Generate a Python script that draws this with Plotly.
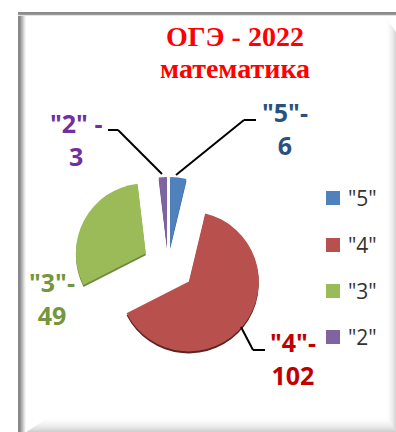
import plotly.graph_objects as go

W, H = 396, 432
categories = ['"5"', '"4"', '"3"', '"2"']
values = [6, 102, 49, 3]
colors = ["#4F81BD", "#B8504E", "#9BBB59", "#8064A2"]
rim_colors = ["#3A6090", "#5A2422", "#6F8A3E", "#5C4878"]
label_colors = ["#2A5082", "#C00000", "#76953C", "#7030A0"]
pull = [0.26, 0.38, 0.36, 0.26]
data_labels = ['"5"-<br>6', '"4"-<br>102', '"3"-<br>49', '"2" -<br>3']
label_pos = [(285, 128), (293, 358), (52, 298), (76, 139)]
leaders = [
    [(176, 175), (244, 120), (256, 120)],
    [(241, 327), (253, 350), (265, 350)],
    [(162, 174), (118, 130), (108, 130)],
]
legend_y = [198, 245, 291, 337]


def xf(x):
    return x / W


def yf(y):
    return 1 - y / H


def domain(cx, cy, size):
    return dict(x=[xf(cx - size / 2), xf(cx + size / 2)], y=[yf(cy + size / 2), yf(cy - size / 2)])


CX, CY, SIZE = 168, 265, 193
base = dict(labels=categories, values=values, sort=False, direction="clockwise", rotation=0,
            pull=pull, textinfo="none", hoverinfo="label+value", showlegend=False)
fig = go.Figure()
fig.add_trace(go.Pie(domain=domain(CX, CY + 2, SIZE), marker=dict(colors=rim_colors, line=dict(width=0)), **base))
fig.add_trace(go.Pie(domain=domain(CX, CY, SIZE), marker=dict(colors=colors, line=dict(width=0)), **base))

shapes = []


def rect(x0, y0, x1, y1, color):
    shapes.append(dict(type="rect", xref="paper", yref="paper", x0=xf(x0), x1=xf(x1), y0=yf(y1), y1=yf(y0),
                       fillcolor=color, line=dict(width=0), layer="below"))


def grey(v):
    return f"rgb({v},{v},{v})"


# beveled frame
rect(18, 12, 396, 432, "#FFFFFF")
# right bevel, mitred at its ends
for i, v in enumerate([214, 222, 229, 235, 240, 244, 248, 251, 253, 254]):
    rect(395 - i, 18 + 1.5 * (9 - i), 396 - i, 432 - i, grey(v))
# bottom bevel, mitred at its left end
for i, v in enumerate([208, 214, 220, 225, 230, 234, 238, 241, 244, 247, 249, 251, 253, 254]):
    rect(27 + 1.5 * i, 431 - i, 396 - i * 0.7, 432 - i, grey(v))
# left bevel
for i, v in enumerate([136, 136, 150, 170, 190, 210, 230, 245]):
    rect(18 + i, 12, 19 + i, 432, grey(v))
# top line
for i, v in enumerate([140, 140, 155, 225]):
    rect(18, 12 + i, 396, 13 + i, grey(v))

# leader lines
for pts in leaders:
    for (x0, y0), (x1, y1) in zip(pts, pts[1:]):
        shapes.append(dict(type="line", xref="paper", yref="paper", x0=xf(x0), x1=xf(x1), y0=yf(y0), y1=yf(y1),
                           line=dict(color="#000000", width=2)))

# legend swatches
for y, c in zip(legend_y, colors):
    shapes.append(dict(type="rect", xref="paper", yref="paper", x0=xf(326), x1=xf(340), y0=yf(y + 7), y1=yf(y - 7),
                       fillcolor=c, line=dict(width=0)))

ann = [
    dict(text="<b>ОГЭ - 2022</b>", x=xf(235), y=yf(36), font=dict(family="Liberation Serif", size=28, color="#FF0000")),
    dict(text="<b>математика</b>", x=xf(235), y=yf(68), font=dict(family="Liberation Serif", size=28, color="#FF0000")),
]
for t, (x, y), c in zip(data_labels, label_pos, label_colors):
    ann.append(dict(text="<b>" + t + "</b>", x=xf(x), y=yf(y), font=dict(family="Open Sans", size=25, color=c)))
for t, y in zip(categories, legend_y):
    ann.append(dict(text=t, x=xf(346), y=yf(y), xanchor="left", font=dict(family="Open Sans", size=21, color="#333333")))
for a in ann:
    a.update(xref="paper", yref="paper", showarrow=False, yanchor="middle", align="center")
    a.setdefault("xanchor", "center")

fig.update_layout(width=W, height=H, margin=dict(l=0, r=0, t=0, b=0), paper_bgcolor="#FFFFFF",
                  shapes=shapes, annotations=ann, showlegend=False)
fig.write_html("out.html", config=dict(displayModeBar=False),
               post_script="document.body.style.margin='0';document.documentElement.style.overflow='hidden';")
